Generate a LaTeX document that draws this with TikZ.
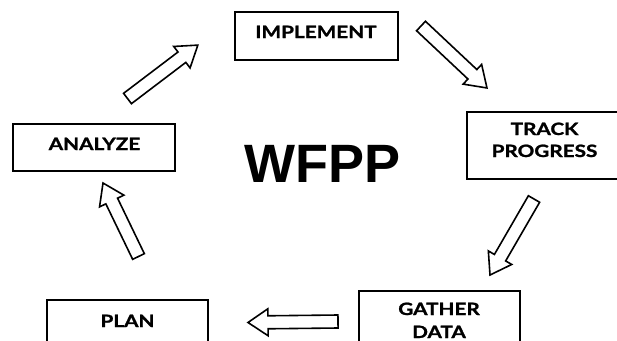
\documentclass[tikz,border=0pt]{standalone}
\usepackage{fontspec}
\setmainfont{Liberation Sans}
\newfontfamily\labfont{Lato}[BoldFeatures={FakeStretch=1.22, FakeBold=1.3}]
\usetikzlibrary{calc}
\tikzset{
  box/.style={draw=black, line width=2pt, fill=white, inner sep=0pt},
  lab/.style={font=\labfont\bfseries\fontsize{17}{20}\selectfont, inner sep=0pt, anchor=base},
  blk/.style={draw=black, fill=white, line width=1.6pt, line join=miter},
}
\newcommand{\blockarrow}[2]{%
  \draw[blk] let \p1=(#1), \p2=(#2),
    \n1={atan2(\y2-\y1,\x2-\x1)}, \n2={veclen(\x2-\x1,\y2-\y1)} in
    [shift={(\p1)}, rotate=\n1]
    (0pt,-6.5pt) -- ({(\n2-20)*1pt},-6.5pt) -- ({(\n2-20)*1pt},-13.5pt)
    -- ({\n2*1pt},0pt) -- ({(\n2-20)*1pt},13.5pt) -- ({(\n2-20)*1pt},6.5pt)
    -- (0pt,6.5pt) -- cycle;}
\begin{document}
\begin{tikzpicture}[x=1pt,y=-1pt]
\useasboundingbox (0,0) rectangle (617,340);
\clip (0,0) rectangle (617,340);
\fill[white] (0,0) rectangle (617,340);
% boxes
\node[box, minimum width=163pt, minimum height=48pt] (impl) at (316.5,36) {};
\node[box, minimum width=162pt, minimum height=47pt] (anal) at (94,147.5) {};
\node[box, minimum width=156pt, minimum height=67pt] (track) at (545,145.5) {};
\node[box, minimum width=161pt, minimum height=66pt] (gath) at (439.5,324) {};
\node[box, minimum width=161pt, minimum height=66pt] (plan) at (127.5,333) {};
% labels
\node[lab] (implT) at (316,38) {IMPLEMENT};
\node[lab] (analT) at (94.5,150) {ANALYZE};
\node[lab] (trackT1) at (544.5,135) {TRACK};
\node[lab] (trackT2) at (544.5,157) {PROGRESS};
\node[lab] (gathT1) at (439,315) {GATHER};
\node[lab] (gathT2) at (439,338) {DATA};
\node[lab] (planT) at (127.5,327) {PLAN};
\node[font=\bfseries\fontsize{54}{60}\selectfont, inner sep=0pt, anchor=base] (title) at (322.5,182) {WFPP};
% arrow ends
\coordinate (a1s) at (127.5,98.5);  \coordinate (a1e) at (198,45);
\coordinate (a2s) at (421,26);      \coordinate (a2e) at (487,88);
\coordinate (a3s) at (534,199);     \coordinate (a3e) at (490,275);
\coordinate (a4s) at (338,321.5);   \coordinate (a4e) at (248,322.5);
\coordinate (a5s) at (138.5,256.5); \coordinate (a5e) at (103,183);
\blockarrow{a1s}{a1e}
\blockarrow{a2s}{a2e}
\blockarrow{a3s}{a3e}
\blockarrow{a4s}{a4e}
\blockarrow{a5s}{a5e}
\end{tikzpicture}
\end{document}
